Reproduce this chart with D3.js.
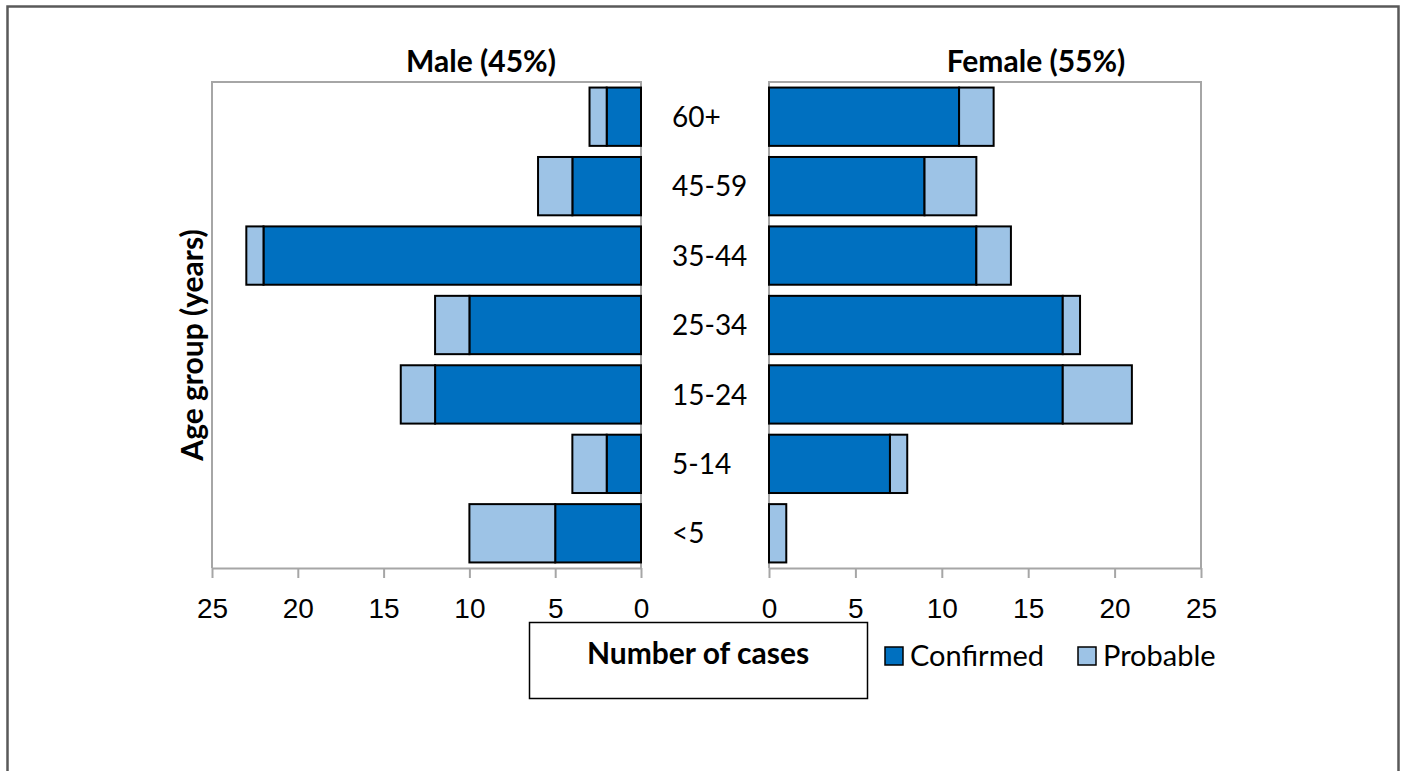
<!DOCTYPE html>
<html>
<head>
<meta charset="utf-8">
<script src="https://cdn.jsdelivr.net/npm/d3@7"></script>
<style>
    body { margin: 0; background: #fff; }
    svg { display: block; font-family: Lato, "Open Sans", sans-serif; }
    .axis path, .axis line { stroke: #a6a6a6; stroke-width: 2; }
    .axis text { font-size: 28px; fill: #000; }
</style>
</head>
<body>
<svg id="chart" width="1407" height="771"></svg>
<script>
// age groups, top to bottom
var ageGroups = ["60+", "45-59", "35-44", "25-34", "15-24", "5-14", "<5"];
var maleConfirmed = [2, 4, 22, 10, 12, 2, 5];
var maleProbable = [1, 2, 1, 2, 2, 2, 5];
var femaleConfirmed = [11, 9, 12, 17, 17, 7, 0];
var femaleProbable = [2, 3, 2, 1, 4, 1, 1];
var tickValues = [0, 5, 10, 15, 20, 25];
var seriesNames = ["Confirmed", "Probable"];
var seriesColors = ["#0070c0", "#9dc3e6"];

var svg = d3.select("#chart");

// outer frame
svg.append("rect")
    .attr("x", 7.5).attr("y", 6.5)
    .attr("width", 1391).attr("height", 800)
    .attr("fill", "none").attr("stroke", "#595959").attr("stroke-width", 2.5);

var plotTop = 82, plotBottom = 568;

var y = d3.scaleBand()
    .domain(ageGroups)
    .range([plotTop, plotBottom])
    .paddingInner(0.16)
    .paddingOuter(0.08);

var xMale = d3.scaleLinear().domain([25, 0]).range([212, 641]);
var xFemale = d3.scaleLinear().domain([0, 25]).range([769, 1201]);

function panel(x, confirmed, probable, title, titleX) {
    var g = svg.append("g");
    var x0 = x(0), x25 = x(25);

    // plot frame (top + outer side)
    g.append("path")
        .attr("d", "M" + x0 + "," + plotBottom + "V" + plotTop + "H" + x25 + "V" + plotBottom)
        .attr("fill", "none").attr("stroke", "#a6a6a6").attr("stroke-width", 2);

    var axis = g.append("g")
        .attr("class", "axis")
        .attr("transform", "translate(0," + plotBottom + ")")
        .call(d3.axisBottom(x).tickValues(tickValues).tickSize(10).tickPadding(20).tickSizeOuter(0));
    axis.selectAll("text").attr("dy", "0.71em");

    var rows = ageGroups.map(function (a, i) {
        return {age: a, c: confirmed[i], p: probable[i]};
    });

    // confirmed
    g.selectAll(".conf").data(rows.filter(function (d) { return d.c > 0; }))
        .enter().append("rect")
        .attr("x", function (d) { return Math.min(x(0), x(d.c)); })
        .attr("width", function (d) { return Math.abs(x(d.c) - x(0)); })
        .attr("y", function (d) { return y(d.age); })
        .attr("height", y.bandwidth())
        .attr("fill", seriesColors[0])
        .attr("stroke", "#000").attr("stroke-width", 2);

    // probable stacked after confirmed
    g.selectAll(".prob").data(rows.filter(function (d) { return d.p > 0; }))
        .enter().append("rect")
        .attr("x", function (d) { return Math.min(x(d.c), x(d.c + d.p)); })
        .attr("width", function (d) { return Math.abs(x(d.c + d.p) - x(d.c)); })
        .attr("y", function (d) { return y(d.age); })
        .attr("height", y.bandwidth())
        .attr("fill", seriesColors[1])
        .attr("stroke", "#000").attr("stroke-width", 2);

    g.append("text")
        .attr("x", titleX).attr("y", 72)
        .attr("text-anchor", "middle")
        .attr("font-size", 30).attr("font-weight", "bold")
        .text(title);
}

panel(xMale, maleConfirmed, maleProbable, "Male (45%)", 481);
panel(xFemale, femaleConfirmed, femaleProbable, "Female (55%)", 1036);

// category labels in the middle
svg.selectAll(".cat").data(ageGroups)
    .enter().append("text")
    .attr("x", 672)
    .attr("y", function (d) { return y(d) + y.bandwidth() / 2; })
    .attr("dy", "0.36em")
    .attr("font-size", 28)
    .text(function (d) { return d; });

// y axis title
svg.append("text")
    .attr("transform", "translate(203,345) rotate(-90)")
    .attr("text-anchor", "middle")
    .attr("font-size", 30).attr("font-weight", "bold")
    .text("Age group (years)");

// x axis title box
svg.append("rect")
    .attr("x", 529.5).attr("y", 622.5).attr("width", 338).attr("height", 76)
    .attr("fill", "#fff").attr("stroke", "#000").attr("stroke-width", 1.5);
svg.append("text")
    .attr("x", 698).attr("y", 664)
    .attr("text-anchor", "middle")
    .attr("font-size", 30).attr("font-weight", "bold")
    .text("Number of cases");

// legend
var legendX = [885, 1078];
var legend = svg.selectAll(".legend").data(seriesNames)
    .enter().append("g")
    .attr("transform", function (d, i) { return "translate(" + legendX[i] + ",647)"; });
legend.append("rect")
    .attr("width", 18).attr("height", 18)
    .attr("fill", function (d, i) { return seriesColors[i]; })
    .attr("stroke", "#000").attr("stroke-width", 1.5);
legend.append("text")
    .attr("x", 25).attr("y", 9).attr("dy", "0.36em")
    .attr("font-size", 29)
    .text(function (d) { return d; });
</script>
</body>
</html>
